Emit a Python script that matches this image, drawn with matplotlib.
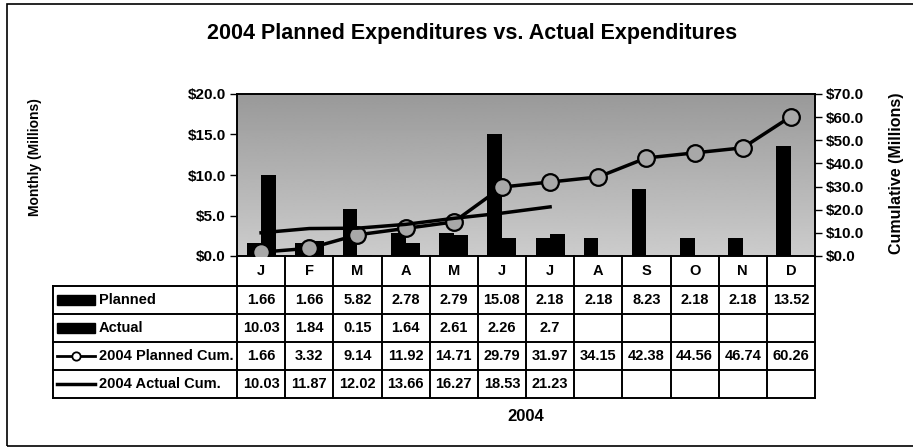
import numpy as np
import matplotlib.pyplot as plt
import matplotlib.transforms as mtransforms
from matplotlib.lines import Line2D
from matplotlib.patches import Rectangle

plt.rcParams['font.family'] = ['Liberation Sans', 'DejaVu Sans']

months = ['J', 'F', 'M', 'A', 'M', 'J', 'J', 'A', 'S', 'O', 'N', 'D']
planned = [1.66, 1.66, 5.82, 2.78, 2.79, 15.08, 2.18, 2.18, 8.23, 2.18, 2.18, 13.52]
actual = [10.03, 1.84, 0.15, 1.64, 2.61, 2.26, 2.7]
planned_cum = [1.66, 3.32, 9.14, 11.92, 14.71, 29.79, 31.97, 34.15, 42.38, 44.56, 46.74, 60.26]
actual_cum = [10.03, 11.87, 12.02, 13.66, 16.27, 18.53, 21.23]
row_labels = ['Planned', 'Actual', '2004 Planned Cum.', '2004 Actual Cum.']

W, H = 913, 448


def fx(px):
    return px / W


def fy(py):
    return 1 - py / H


fig = plt.figure(figsize=(W / 100, H / 100), dpi=100)

# outer frame
fig.patches.append(Rectangle((fx(7), fy(446)), 1.2, fy(4) - fy(446), transform=fig.transFigure,
                             fill=False, edgecolor='black', lw=1.2))

left, right, top, bottom = 237, 815, 94, 256
ax = fig.add_axes([fx(left), fy(bottom), fx(right - left), fy(top) - fy(bottom)])
ax2 = ax.twinx()

# shaded background (scan looks like a dithered gradient, darker at top)
grad = np.linspace(0.6, 0.8, 100).reshape(-1, 1)
ax.imshow(grad, cmap='gray', vmin=0, vmax=1, aspect='auto', extent=[0, 1, 0, 1],
          transform=ax.transAxes, zorder=0, interpolation='bilinear')

x = np.arange(len(months))
w = 0.3
ax.bar(x - w / 2, planned, w, color='black', zorder=2)
ax.bar(x[:len(actual)] + w / 2, actual, w, color='black', zorder=2)

ax2.plot(x, planned_cum, color='black', lw=2.5, marker='o', ms=12, mfc='#a8a8a8',
         mec='black', mew=1.6, zorder=3)
ax2.plot(x[:len(actual_cum)], actual_cum, color='black', lw=2.5, zorder=3)

ax.set_xlim(-0.5, 11.5)
ax.set_ylim(0, 20)
ax2.set_ylim(0, 70)
ax.set_yticks([0, 5, 10, 15, 20])
ax2.set_yticks(np.arange(0, 71, 10))
ax.set_yticklabels(['$%.1f' % v for v in ax.get_yticks()], fontsize=11, fontweight='bold')
ax2.set_yticklabels(['$%.1f' % v for v in ax2.get_yticks()], fontsize=11, fontweight='bold')
ax.set_xticks([])
ax.tick_params(axis='y', direction='out', length=5, width=1, pad=3)
ax2.tick_params(axis='y', direction='out', length=5, width=1, pad=3)
for a in (ax, ax2):
    for s in a.spines.values():
        s.set_linewidth(1.2)

# table below the plot
tr = mtransforms.blended_transform_factory(ax.transData, fig.transFigure)
row_h = 28
month_top, month_bot = 256, 286
rows_y = [month_bot + i * row_h for i in range(5)]
lab_left = 53
lab_left_data = -0.5 - (left - lab_left) / ((right - left) / 12)

for k in range(13):
    fig.add_artist(Line2D([k - 0.5, k - 0.5], [fy(month_top), fy(rows_y[-1])], transform=tr,
                          color='black', lw=1.4))
for yy in rows_y:
    fig.add_artist(Line2D([lab_left_data, 11.5], [fy(yy), fy(yy)], transform=tr, color='black', lw=1.4))
fig.add_artist(Line2D([lab_left_data, lab_left_data], [fy(rows_y[0]), fy(rows_y[-1])], transform=tr,
                      color='black', lw=1.4))

for i, m in enumerate(months):
    fig.text(i, fy((month_top + month_bot) / 2), m, transform=tr, ha='center', va='center',
             fontsize=10.5, fontweight='bold')

table_rows = [planned, actual, planned_cum, actual_cum]
for r, vals in enumerate(table_rows):
    yc = fy(rows_y[r] + row_h / 2)
    for i, v in enumerate(vals):
        fig.text(i, yc, '{:g}'.format(v), transform=tr, ha='center', va='center',
                 fontsize=10.5, fontweight='bold')
    fig.text(fx(99), yc, row_labels[r], ha='left', va='center', fontsize=10.5, fontweight='bold')

# legend keys inside the label column
for r in range(2):
    yc = rows_y[r] + row_h / 2
    fig.patches.append(Rectangle((fx(57), fy(yc + 5)), fx(38), fy(yc - 5) - fy(yc + 5),
                                 transform=fig.transFigure, color='black'))
yc = fy(rows_y[2] + row_h / 2)
fig.add_artist(Line2D([fx(57), fx(95)], [yc, yc], transform=fig.transFigure, color='black', lw=2))
fig.add_artist(Line2D([fx(76)], [yc], transform=fig.transFigure, marker='o', ms=6, mfc='white',
                      mec='black', mew=1.3))
yc = fy(rows_y[3] + row_h / 2)
fig.add_artist(Line2D([fx(57), fx(95)], [yc, yc], transform=fig.transFigure, color='black', lw=2.5))

fig.text(fx(472), fy(34), '2004 Planned Expenditures vs. Actual Expenditures', ha='center',
         va='center', fontsize=15.5, fontweight='bold')
fig.text(fx(35), fy(157), 'Monthly (Millions)', rotation=90, ha='center', va='center',
         fontsize=10, fontweight='bold')
fig.text(fx(896), fy(173), 'Cumulative (Millions)', rotation=90, ha='center', va='center',
         fontsize=11.5, fontweight='bold')
fig.text(fx((left + right) / 2), fy(416), '2004', ha='center', va='center', fontsize=12,
         fontweight='bold')

fig.savefig('out.png', dpi=100)
